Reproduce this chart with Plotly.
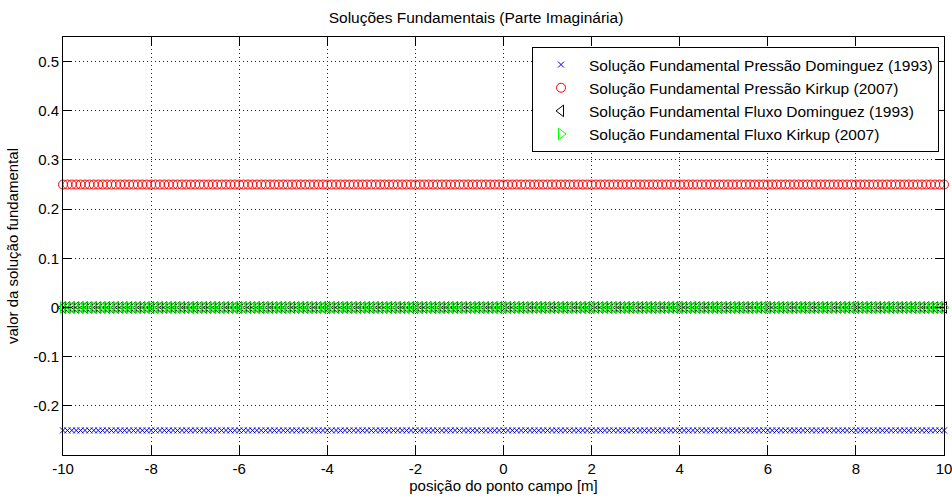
import numpy as np
import plotly.graph_objects as go

# field-point positions along the line [m]
posicao = np.linspace(-10, 10, 201)

# imaginary part of each fundamental solution at the field points
pressao_dominguez = [-0.25] * len(posicao)
pressao_kirkup = [0.25] * len(posicao)
fluxo_dominguez = [0.0] * len(posicao)
fluxo_kirkup = [0.0] * len(posicao)

nomes = [
    "Solução Fundamental Pressão Dominguez (1993)",
    "Solução Fundamental Pressão Kirkup (2007)",
    "Solução Fundamental Fluxo Dominguez (1993)",
    "Solução Fundamental Fluxo Kirkup (2007)",
]

x_ticks = [-10, -8, -6, -4, -2, 0, 2, 4, 6, 8, 10]
x_labels = ["-10", "-8", "-6", "-4", "-2", "0", "2", "4", "6", "8", "10"]
y_ticks = [-0.2, -0.1, 0, 0.1, 0.2, 0.3, 0.4, 0.5]
y_labels = ["-0.2", "-0.1", "0", "0.1", "0.2", "0.3", "0.4", "0.5"]

FONT = "Liberation Sans, Arial, sans-serif"
FS = 15

fig = go.Figure()
series = [
    (pressao_dominguez, "x-thin-open", "#0000ff", 6),
    (pressao_kirkup, "circle-open", "#ff0000", 9),
    (fluxo_dominguez, "triangle-left-open", "#000000", 10),
    (fluxo_kirkup, "triangle-right-open", "#00ff00", 10),
]
for (vals, sym, cor, tam), nome in zip(series, nomes):
    fig.add_trace(go.Scatter(
        x=posicao, y=vals, mode="markers", name=nome, cliponaxis=False,
        marker=dict(symbol=sym, color=cor, size=tam,
                    line=dict(color=cor, width=1)),
    ))

eixo = dict(
    showline=True, linecolor="black", linewidth=1, mirror="ticks",
    ticks="inside", ticklen=9, tickcolor="black",
    showgrid=True, gridcolor="#202020", gridwidth=1, griddash="1px,3px",
    zeroline=False, ticklabeloverflow="allow", automargin=False,
    tickfont=dict(family=FONT, size=FS, color="black"),
)

fig.update_layout(
    width=952, height=497,
    margin=dict(l=63, r=8, t=37, b=42),
    paper_bgcolor="white", plot_bgcolor="white",
    font=dict(family=FONT, size=FS, color="black"),
    title=dict(text="Soluções Fundamentais (Parte Imaginária)",
               x=0.5, xanchor="center", y=0.965, yanchor="middle",
               font=dict(family=FONT, size=15.5, color="black")),
    xaxis=dict(eixo, range=[-10, 10], tickvals=x_ticks, ticktext=x_labels,
               title=dict(text="posição do ponto campo [m]", standoff=2,
                          font=dict(family=FONT, size=FS))),
    yaxis=dict(eixo, range=[-0.3, 0.55], tickvals=y_ticks, ticktext=y_labels),
    legend=dict(x=1 - 5 / 881, xanchor="right", y=1 - 10 / 418, yanchor="top",
                bgcolor="white", bordercolor="black", borderwidth=1,
                font=dict(family=FONT, size=15.5), tracegroupgap=0,
                itemwidth=46),
    showlegend=True,
)

# vertical axis label, set close to the left edge of the page
fig.add_annotation(
    text="valor da solução fundamental", textangle=-90,
    xref="paper", yref="paper", x=-51 / 881, y=0.5,
    xanchor="center", yanchor="middle", showarrow=False,
    font=dict(family=FONT, size=FS, color="black"),
)

fig.write_html("out.html")
